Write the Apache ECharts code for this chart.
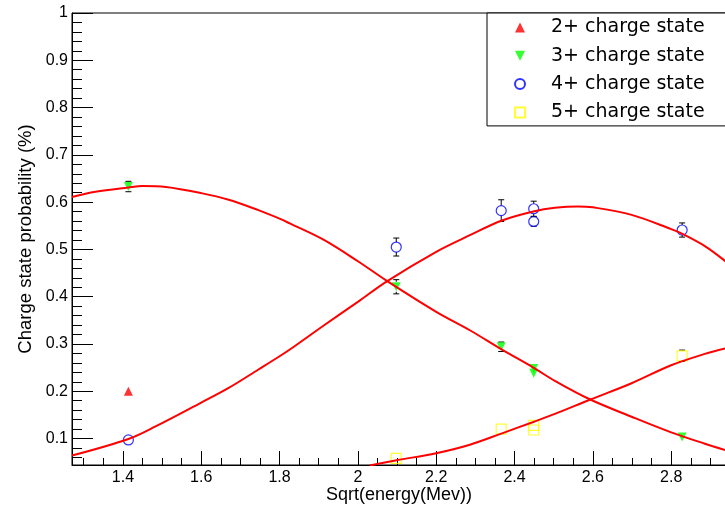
<!DOCTYPE html>
<html><head><meta charset="utf-8">
<script src="https://cdn.jsdelivr.net/npm/echarts@6/dist/echarts.min.js"></script>
<style>html,body{margin:0;padding:0;background:#fff}#c{width:725px;height:507px}</style>
</head><body><div id="c"></div>
<script>
// ---- data ----
const seriesNames = ['2+ charge state', '3+ charge state', '4+ charge state', '5+ charge state'];

const x2 = [1.414];
const y2 = [0.200];
const e2 = [0];

const x3 = [1.414, 2.098, 2.366, 2.449, 2.449, 2.828];
const y3 = [0.633, 0.421, 0.294, 0.248, 0.238, 0.103];
const e3 = [0.011, 0.015, 0.010, 0.006, 0.006, 0.004];

const x4 = [1.414, 2.098, 2.366, 2.449, 2.449, 2.828];
const y4 = [0.097, 0.505, 0.582, 0.586, 0.559, 0.541];
const e4 = [0.005, 0.019, 0.023, 0.016, 0.010, 0.015];

const x5 = [2.098, 2.366, 2.449, 2.449, 2.828];
const y5 = [0.058, 0.120, 0.128, 0.118, 0.275];
const e5 = [0.004, 0.005, 0.005, 0.005, 0.012];

// fit curves
const fit3X = [1.27, 1.33, 1.414, 1.45, 1.51, 1.6, 1.67, 1.746, 1.8, 1.826, 1.911, 2.0, 2.073, 2.2, 2.286, 2.368, 2.448, 2.503, 2.592, 2.699, 2.8, 2.886, 2.94];
const fit3Y = [0.611, 0.622, 0.631, 0.634, 0.632, 0.619, 0.605, 0.583, 0.565, 0.555, 0.521, 0.475, 0.434, 0.368, 0.329, 0.288, 0.250, 0.222, 0.183, 0.146, 0.113, 0.089, 0.075];

const fit4X = [1.27, 1.414, 1.482, 1.6, 1.67, 1.746, 1.8, 1.831, 1.911, 2.0, 2.073, 2.2, 2.286, 2.368, 2.448, 2.503, 2.562, 2.6, 2.699, 2.8, 2.826, 2.886, 2.94];
const fit4Y = [0.064, 0.099, 0.125, 0.176, 0.207, 0.246, 0.274, 0.291, 0.338, 0.389, 0.432, 0.495, 0.530, 0.561, 0.580, 0.588, 0.591, 0.589, 0.573, 0.543, 0.534, 0.507, 0.474];

const fit5X = [2.03, 2.099, 2.2, 2.286, 2.368, 2.448, 2.503, 2.592, 2.699, 2.8, 2.886, 2.94];
const fit5Y = [0.043, 0.054, 0.069, 0.087, 0.111, 0.135, 0.152, 0.182, 0.217, 0.255, 0.279, 0.291];

// axis ticks
const xMajorTicks = [1.4, 1.6, 1.8, 2.0, 2.2, 2.4, 2.6, 2.8];
const xMinorTicks = [1.3, 1.35, 1.45, 1.5, 1.55, 1.65, 1.7, 1.75, 1.85, 1.9, 1.95, 2.05, 2.1, 2.15,
  2.25, 2.3, 2.35, 2.45, 2.5, 2.55, 2.65, 2.7, 2.75, 2.85, 2.9];
const yMajorTicks = [0.1, 0.2, 0.3, 0.4, 0.5, 0.6, 0.7, 0.8, 0.9, 1.0];
const yMinorTicks = [0.06, 0.08, 0.12, 0.14, 0.16, 0.18, 0.22, 0.24, 0.26, 0.28, 0.32, 0.34, 0.36, 0.38,
  0.42, 0.44, 0.46, 0.48, 0.52, 0.54, 0.56, 0.58, 0.62, 0.64, 0.66, 0.68, 0.72, 0.74, 0.76, 0.78,
  0.82, 0.84, 0.86, 0.88, 0.92, 0.94, 0.96, 0.98];

const xTitle = 'Sqrt(energy(Mev))';
const yTitle = 'Charge state probability (%)';

// ---- chart ----
const X_MIN = 1.27, X_MAX = 2.94, Y_MIN = 0.044, Y_MAX = 1.0;
const pairs = (xs, ys) => xs.map((v, i) => [v, ys[i]]);
const triples = (xs, ys, es) => xs.map((v, i) => [v, ys[i], es[i]]);
const errData = [].concat(triples(x3, y3, e3), triples(x4, y4, e4), triples(x5, y5, e5));

const chart = echarts.init(document.getElementById('c'), null, {renderer: 'canvas'});
const tickFont = {fontFamily: 'Liberation Sans', fontSize: 16, color: '#000'};
const hollow = c => ({color: 'rgba(255,255,255,0)', borderColor: c, borderWidth: 1.2});
const gridBox = {left: 72, right: -1, top: 13, bottom: 42, outerBoundsMode: 'none', containLabel: false};

function errRender(params, api) {
  const x = api.value(0), y = api.value(1), e = api.value(2);
  const p = api.coord([x, y]);
  const t = api.coord([x, y + e]);
  const b = api.coord([x, y - e]);
  const r = 5, cap = 3;
  const kids = [];
  const st = {stroke: '#000', lineWidth: 1};
  if (p[1] - t[1] > r) {
    kids.push({type: 'line', shape: {x1: p[0], y1: p[1] - r, x2: p[0], y2: t[1]}, style: st});
  }
  if (p[1] - t[1] > r - 1) {
    kids.push({type: 'line', shape: {x1: p[0] - cap, y1: t[1], x2: p[0] + cap, y2: t[1]}, style: st});
  }
  if (b[1] - p[1] > r) {
    kids.push({type: 'line', shape: {x1: p[0], y1: p[1] + r, x2: p[0], y2: b[1]}, style: st});
  }
  if (b[1] - p[1] > r - 1) {
    kids.push({type: 'line', shape: {x1: p[0] - cap, y1: b[1], x2: p[0] + cap, y2: b[1]}, style: st});
  }
  return {type: 'group', children: kids};
}

const fitLine = (xs, ys) => ({
  type: 'line', data: pairs(xs, ys), showSymbol: false, symbol: 'none', smooth: 0.35,
  lineStyle: {color: '#ff0000', width: 2}, z: 6, silent: true, clip: true
});

chart.setOption({
  animation: false,
  backgroundColor: '#fff',
  grid: [
    Object.assign({show: true, borderColor: '#000', borderWidth: 1}, gridBox),
    Object.assign({show: false}, gridBox)
  ],
  legend: {
    data: seriesNames, orient: 'vertical', left: 487, top: 13,
    padding: [5, 40, 4, 27], itemGap: 9.3, itemWidth: 10, itemHeight: 10,
    borderColor: '#000', borderWidth: 1, backgroundColor: '#fff', selectedMode: false,
    textStyle: {fontFamily: 'DejaVu Sans', fontSize: 19, color: '#000', padding: [0, 0, 0, 21]}
  },
  xAxis: [
    {type: 'value', gridIndex: 0, position: 'bottom', min: X_MIN, max: X_MAX,
     axisLine: {show: true, lineStyle: {color: '#000'}},
     axisTick: {show: true, inside: true, length: 14, customValues: xMajorTicks, lineStyle: {color: '#000'}},
     axisLabel: {show: true, customValues: xMajorTicks, margin: 5, ...tickFont},
     splitLine: {show: false},
     name: xTitle, nameLocation: 'middle', nameGap: 21, nameMoveOverlap: false,
     nameTextStyle: {fontFamily: 'Liberation Sans', fontSize: 18, color: '#000'}},
    {type: 'value', gridIndex: 1, position: 'bottom', min: X_MIN, max: X_MAX,
     axisLine: {show: false},
     axisTick: {show: true, inside: true, length: 7, customValues: xMinorTicks, lineStyle: {color: '#000'}},
     axisLabel: {show: false}, splitLine: {show: false}}
  ],
  yAxis: [
    {type: 'value', gridIndex: 0, position: 'left', min: Y_MIN, max: Y_MAX,
     axisLine: {show: true, lineStyle: {color: '#000'}},
     axisTick: {show: true, inside: true, length: 21, customValues: yMajorTicks, lineStyle: {color: '#000'}},
     axisLabel: {show: true, customValues: yMajorTicks, margin: 4, ...tickFont},
     splitLine: {show: false},
     name: yTitle, nameLocation: 'middle', nameGap: 37, nameRotate: 90, nameMoveOverlap: false,
     nameTextStyle: {fontFamily: 'Liberation Sans', fontSize: 18.5, color: '#000'}},
    {type: 'value', gridIndex: 1, position: 'left', min: Y_MIN, max: Y_MAX,
     axisLine: {show: false},
     axisTick: {show: true, inside: true, length: 10, customValues: yMinorTicks, lineStyle: {color: '#000'}},
     axisLabel: {show: false}, splitLine: {show: false}}
  ],
  series: [
    {type: 'custom', renderItem: errRender, data: errData, z: 3, silent: true, clip: true,
     encode: {x: 0, y: [1, 2]}},
    {name: seriesNames[0], type: 'scatter', data: pairs(x2, y2), symbol: 'triangle', symbolSize: 9,
     itemStyle: {color: '#ff0000'}, z: 4},
    {name: seriesNames[1], type: 'scatter', data: pairs(x3, y3), symbol: 'path://M0,0L10,0L5,10Z', symbolSize: 9,
     itemStyle: {color: '#00ff00'}, z: 4},
    {name: seriesNames[2], type: 'scatter', data: pairs(x4, y4), symbol: 'circle', symbolSize: 10,
     itemStyle: hollow('#0000ff'), z: 4},
    {name: seriesNames[3], type: 'scatter', data: pairs(x5, y5), symbol: 'rect', symbolSize: 10,
     itemStyle: hollow('#ffff00'), z: 4},
    fitLine(fit3X, fit3Y),
    fitLine(fit4X, fit4Y),
    fitLine(fit5X, fit5Y)
  ]
});
</script></body></html>
